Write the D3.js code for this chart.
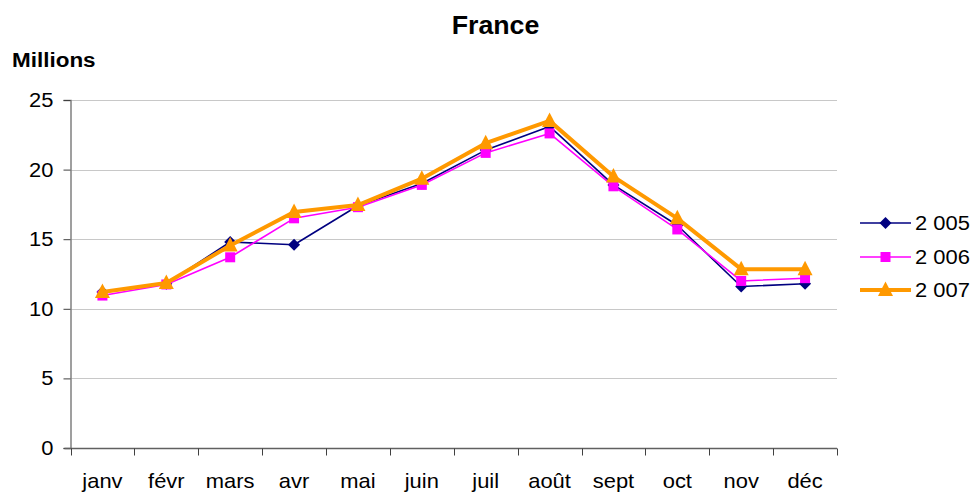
<!DOCTYPE html>
<html>
<head>
<meta charset="utf-8">
<script src="https://cdn.jsdelivr.net/npm/d3@7"></script>
<style>
  html, body { margin: 0; padding: 0; background: #fff; }
  svg { display: block; font-family: "Liberation Sans", Arial, sans-serif; }
</style>
</head>
<body>
<svg id="chart" width="976" height="493"></svg>
<script>
// Monthly figures, in millions
const months = ["janv", "févr", "mars", "avr", "mai", "juin", "juil", "août", "sept", "oct", "nov", "déc"];
const values2005 = [11.2, 11.8, 14.8, 14.6, 17.4, 19.0, 21.4, 23.1, 18.9, 16.0, 11.6, 11.8];
const values2006 = [10.95, 11.75, 13.7, 16.5, 17.3, 18.9, 21.2, 22.6, 18.8, 15.7, 12.0, 12.2];
const values2007 = [11.2, 11.85, 14.55, 16.95, 17.45, 19.35, 21.9, 23.5, 19.5, 16.5, 12.85, 12.85];
const seriesNames = ["2 005", "2 006", "2 007"];
const yTicks = [0, 5, 10, 15, 20, 25];

// Marker shapes
const diamond = { draw(ctx) { const r = 6; ctx.moveTo(0, -r); ctx.lineTo(r, 0); ctx.lineTo(0, r); ctx.lineTo(-r, 0); ctx.closePath(); } };
const square = { draw(ctx) { const r = 5; ctx.rect(-r, -r, 2 * r, 2 * r); } };
const triangle = { draw(ctx) { ctx.moveTo(0, -8.5); ctx.lineTo(7.5, 6); ctx.lineTo(-7.5, 6); ctx.closePath(); } };

const series = [
  { name: seriesNames[0], values: values2005, color: "#000080", width: 1.6, shape: diamond },
  { name: seriesNames[1], values: values2006, color: "#FF00FF", width: 1.6, shape: square },
  { name: seriesNames[2], values: values2007, color: "#FF9900", width: 4, shape: triangle }
];

const svg = d3.select("#chart");
const plot = { left: 70.5, right: 837, top: 100, bottom: 448 };
const stretch = 1.07;

const x = d3.scaleBand().domain(months).range([plot.left, plot.right]);
const y = d3.scaleLinear().domain([0, 25]).range([plot.bottom, plot.top]);

// Text slightly widened horizontally
function addText(parent, tx, ty, str, size, opts = {}) {
  return parent.append("text")
    .attr("transform", `translate(${tx},${ty}) scale(${stretch},1)`)
    .attr("text-anchor", opts.anchor || "start")
    .attr("font-size", size)
    .attr("font-weight", opts.bold ? "bold" : "normal")
    .attr("fill", "#000")
    .text(str);
}

// Title and unit label
addText(svg, 495.5, 34, "France", 25, { anchor: "middle", bold: true });
addText(svg, 12, 67, "Millions", 21, { bold: true });

// Horizontal gridlines
svg.append("g").selectAll("line").data(yTicks.filter(t => t > 0)).join("line")
  .attr("x1", plot.left).attr("x2", plot.right)
  .attr("y1", d => Math.round(y(d)) + 0.5).attr("y2", d => Math.round(y(d)) + 0.5)
  .attr("stroke", "#c8c8c8").attr("stroke-width", 1);

// Y axis
const yAxis = d3.axisLeft(y).tickValues(yTicks).tickSize(7).tickPadding(10).tickFormat(d3.format("d"));
const gy = svg.append("g").attr("transform", `translate(${plot.left},0)`).call(yAxis);
gy.select(".domain").attr("stroke", "#808080").attr("stroke-width", 1.5);
gy.selectAll(".tick line").attr("stroke", "#404040");
gy.selectAll(".tick text").each(function () {
  const t = d3.select(this);
  t.attr("x", +t.attr("x") / stretch).attr("transform", `scale(${stretch},1)`);
}).attr("font-size", 20.5).attr("fill", "#000")
  .attr("font-family", "Liberation Sans, Arial, sans-serif");

// X axis with ticks between categories
const gx = svg.append("g").attr("transform", `translate(0,${plot.bottom + 0.5})`);
gx.append("line").attr("x1", plot.left - 6).attr("x2", plot.right)
  .attr("stroke", "#606060").attr("stroke-width", 1.5);
const boundaries = months.map(m => x(m)).concat([plot.right]);
gx.selectAll("line.tk").data(boundaries).join("line").attr("class", "tk")
  .attr("x1", d => Math.round(d) + 0.5).attr("x2", d => Math.round(d) + 0.5)
  .attr("y1", 0).attr("y2", 7).attr("stroke", "#404040");
months.forEach(m => addText(gx, x(m) + x.bandwidth() / 2, 39.5, m, 20.5, { anchor: "middle" }));

// Series lines and markers
const cx = m => x(m) + x.bandwidth() / 2;
const line = d3.line().x((d, i) => cx(months[i])).y(d => y(d));

series.forEach(s => {
  svg.append("path").datum(s.values).attr("d", line)
    .attr("fill", "none").attr("stroke", s.color).attr("stroke-width", s.width)
    .attr("stroke-linejoin", "round");
  svg.append("g").selectAll("path").data(s.values).join("path")
    .attr("transform", (d, i) => `translate(${cx(months[i])},${y(d)})`)
    .attr("d", d3.symbol().type(s.shape)())
    .attr("fill", s.color);
});

// Legend
const legendY = [223, 257, 290];
series.forEach((s, i) => {
  const g = svg.append("g").attr("transform", `translate(0,${legendY[i]})`);
  g.append("line").attr("x1", 860).attr("x2", 911).attr("y1", 0).attr("y2", 0)
    .attr("stroke", s.color).attr("stroke-width", s.width);
  g.append("path").attr("transform", "translate(885.5,0)")
    .attr("d", d3.symbol().type(s.shape)()).attr("fill", s.color);
  addText(g, 915, 7, s.name, 20.5);
});
</script>
</body>
</html>
